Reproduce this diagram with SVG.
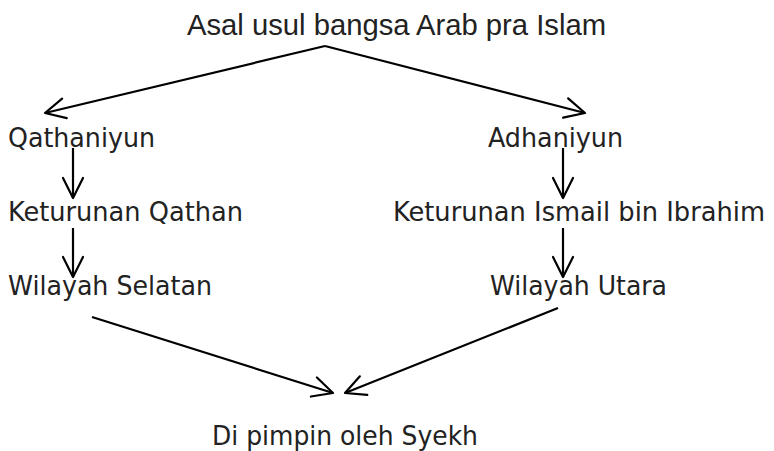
<svg xmlns="http://www.w3.org/2000/svg" width="774" height="451" viewBox="0 0 774 451">
<defs>
<marker id="ah" markerUnits="userSpaceOnUse" markerWidth="30" markerHeight="30" viewBox="-25 -15 30 30" refX="0" refY="0" orient="auto">
<path d="M -20 -10 L 0 0 L -20 10" fill="none" stroke="#000" stroke-width="2.2" stroke-linecap="round" stroke-linejoin="round"/>
</marker>
<style>
.t{font-family:"DejaVu Sans Condensed","DejaVu Sans",Verdana,sans-serif;font-size:27px;fill:#222}
.title{font-family:"Liberation Sans",Arial,sans-serif;font-size:29px;fill:#222}
.c{stroke:#000;stroke-width:2.2;fill:none;marker-end:url(#ah)}
</style>
</defs>
<rect width="774" height="451" fill="#fff"/>
<g id="n-title"><text class="title" x="187" y="35" textLength="419" lengthAdjust="spacingAndGlyphs">Asal usul bangsa Arab pra Islam</text></g>
<g id="n-qathaniyun"><text class="t" x="8" y="146.5" textLength="147" lengthAdjust="spacingAndGlyphs">Qathaniyun</text></g>
<g id="n-ket-qathan"><text class="t" x="8" y="221" textLength="235" lengthAdjust="spacingAndGlyphs">Keturunan Qathan</text></g>
<g id="n-selatan"><text class="t" x="8" y="295" textLength="204" lengthAdjust="spacingAndGlyphs">Wilayah Selatan</text></g>
<g id="n-adhaniyun"><text class="t" x="488" y="146.5" textLength="135" lengthAdjust="spacingAndGlyphs">Adhaniyun</text></g>
<g id="n-ket-ismail"><text class="t" x="393" y="221" textLength="372" lengthAdjust="spacingAndGlyphs">Keturunan Ismail bin Ibrahim</text></g>
<g id="n-utara"><text class="t" x="490" y="295" textLength="177" lengthAdjust="spacingAndGlyphs">Wilayah Utara</text></g>
<g id="n-syekh"><text class="t" x="212" y="445" textLength="266" lengthAdjust="spacingAndGlyphs">Di pimpin oleh Syekh</text></g>
<g id="connectors">
<line class="c" x1="325" y1="46" x2="45" y2="113"/>
<line class="c" x1="325" y1="46" x2="585" y2="113"/>
<line class="c" x1="73" y1="148" x2="73" y2="198"/>
<line class="c" x1="73" y1="228" x2="73" y2="277"/>
<line class="c" x1="563" y1="148" x2="563" y2="198"/>
<line class="c" x1="563" y1="228" x2="563" y2="277"/>
<line class="c" x1="92" y1="317" x2="333" y2="393"/>
<line class="c" x1="558" y1="308" x2="345" y2="393"/>
</g>
</svg>
